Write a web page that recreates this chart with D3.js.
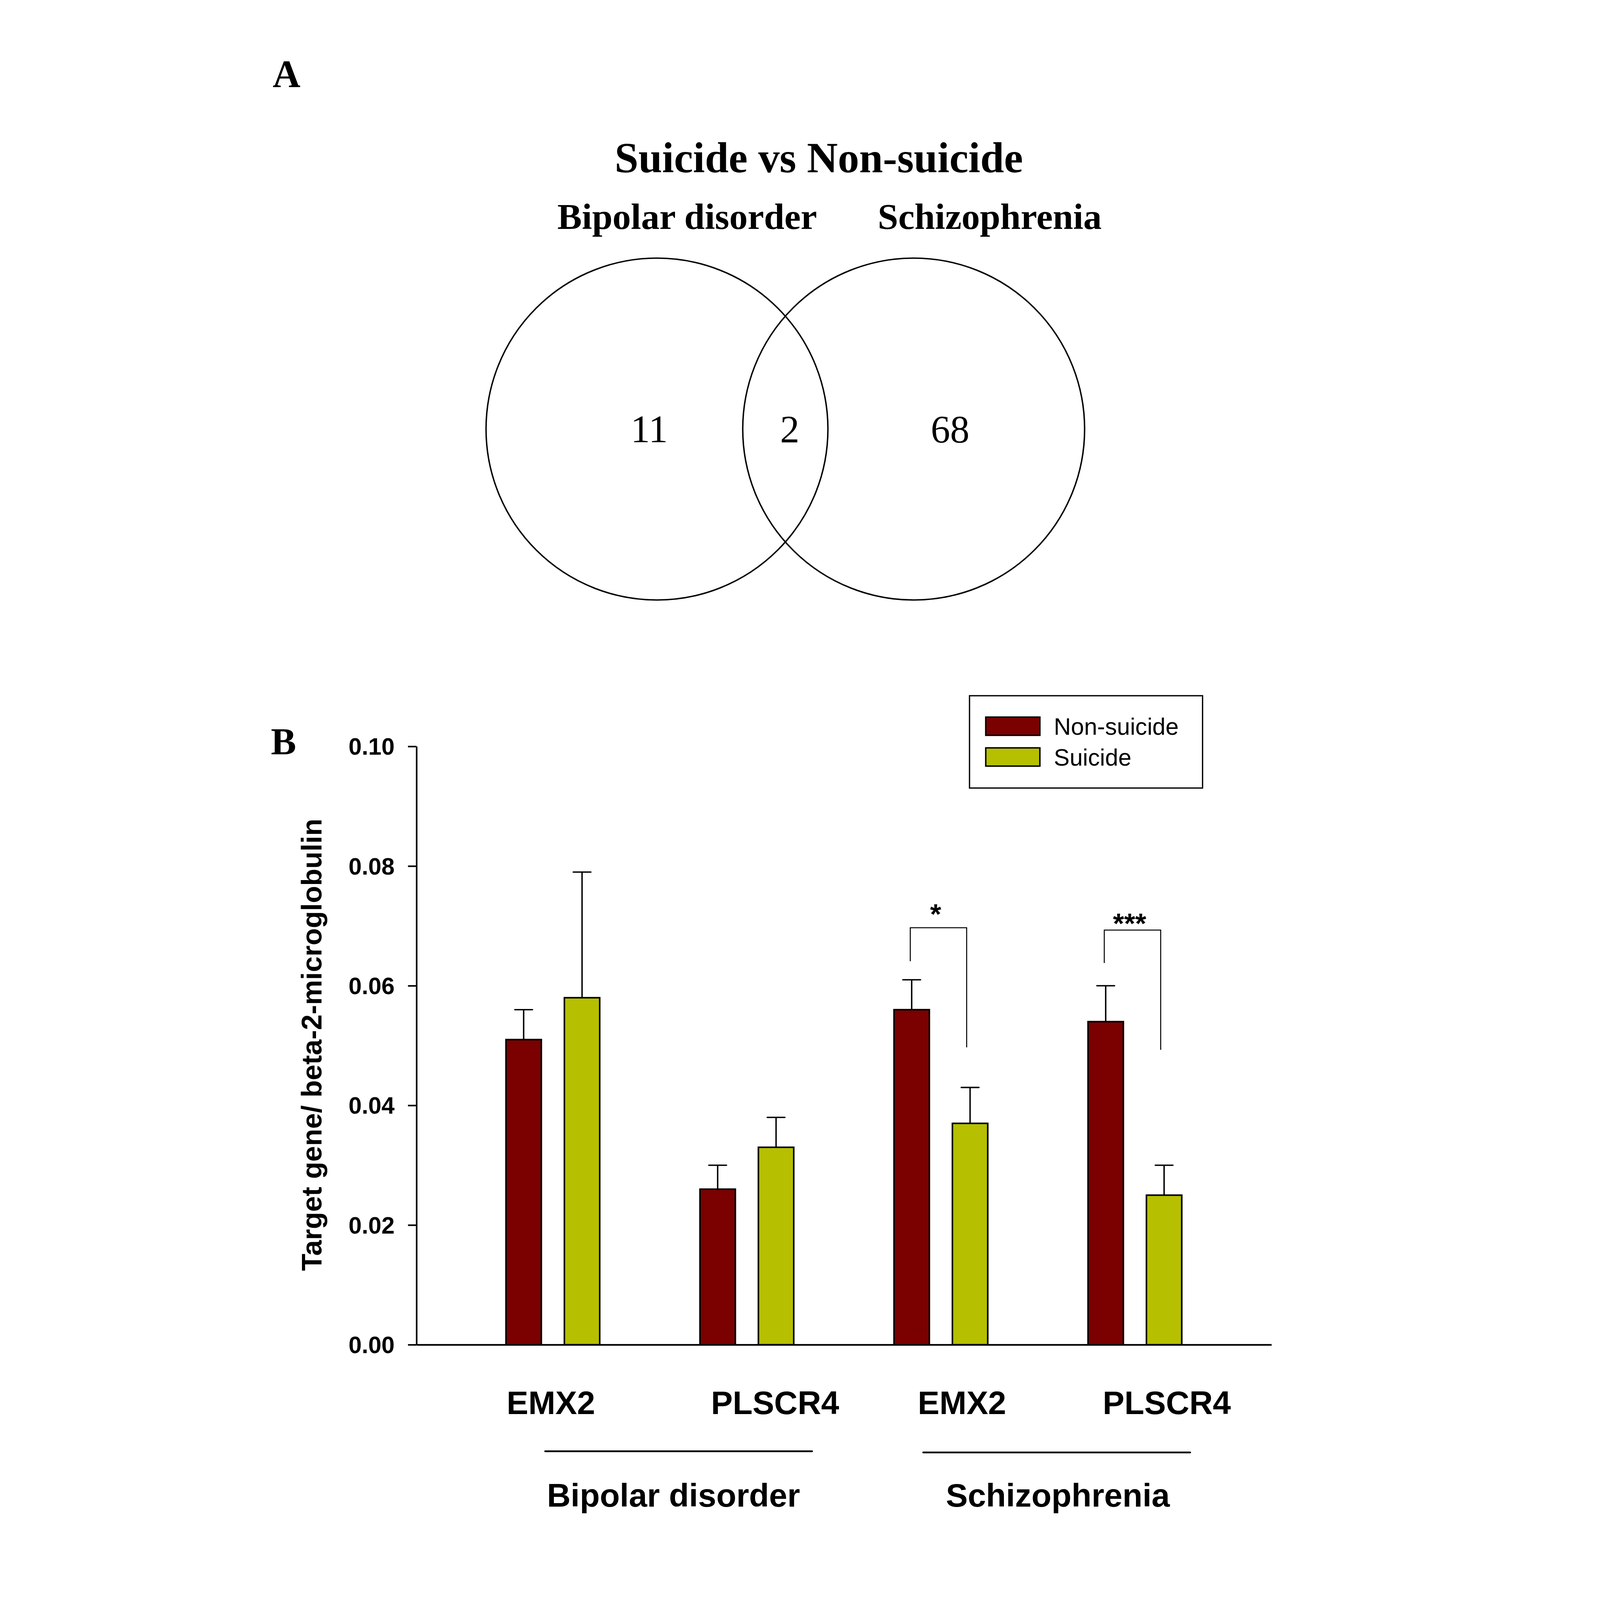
<!DOCTYPE html>
<html>
<head>
<meta charset="utf-8">
<script src="https://cdn.jsdelivr.net/npm/d3@7"></script>
<style>
  html, body { margin: 0; padding: 0; background: #fff; overflow: hidden; }
  svg { display: block; }
</style>
</head>
<body>
<div id="figure"></div>
<script>
// ---- data ----
const vennTitle = "Suicide vs Non-suicide";
const vennSets = ["Bipolar disorder", "Schizophrenia"];
const vennCounts = [11, 2, 68]; // BD only, shared, SZ only

const groups = ["BD-EMX2", "BD-PLSCR4", "SZ-EMX2", "SZ-PLSCR4"];
const genes = ["EMX2", "PLSCR4", "EMX2", "PLSCR4"];
const disorders = ["Bipolar disorder", "Schizophrenia"];
const series = ["Non-suicide", "Suicide"];
const nonSuicideMean = [0.051, 0.026, 0.056, 0.054];
const nonSuicideErr = [0.005, 0.004, 0.005, 0.006];
const suicideMean = [0.058, 0.033, 0.037, 0.025];
const suicideErr = [0.021, 0.005, 0.006, 0.005];
const yTicks = [0, 0.02, 0.04, 0.06, 0.08, 0.10];
const yLabel = "Target gene/ beta-2-microglobulin";

// significance brackets (Schizophrenia groups)
const sigGroups = ["SZ-EMX2", "SZ-PLSCR4"];
const sigMarks = ["*", "***"];
const sigTop = [0.0697, 0.0693];
const sigLeftEnd = [0.0641, 0.0638];
const sigRightEnd = [0.0497, 0.0493];

const colors = { "Non-suicide": "#7b0000", "Suicide": "#b6c000" };

// ---- drawing ----
// figure is laid out in a 4212x5616 box, then fitted into the window
const W = 4212, H = 5616;
const serif = "'Liberation Serif', 'Times New Roman', serif";
const sans = "'Liberation Sans', Arial, sans-serif";

const svg = d3.select("#figure").append("svg")
    .attr("width", window.innerWidth || W)
    .attr("height", window.innerHeight || H)
    .attr("viewBox", `0 0 ${W} ${H}`)
    .attr("preserveAspectRatio", "xMidYMid meet");

svg.append("rect").attr("width", W).attr("height", H).attr("fill", "#fff");

// panel letters
svg.append("text").attr("x", 255).attr("y", 306)
    .attr("font-family", serif).attr("font-weight", "bold").attr("font-size", 135)
    .text("A");
svg.append("text").attr("x", 249).attr("y", 2647)
    .attr("font-family", serif).attr("font-weight", "bold").attr("font-size", 133)
    .text("B");

// ---------- Panel A: Venn ----------
const venn = svg.append("g");
venn.append("text").attr("x", 2172).attr("y", 604)
    .attr("text-anchor", "middle")
    .attr("font-family", serif).attr("font-weight", "bold").attr("font-size", 150)
    .text(vennTitle);

const setX = d3.scalePoint().domain(vennSets).range([1604, 2505]);
const setLabelX = [1710, 2772];

venn.selectAll("text.set")
    .data(vennSets)
    .enter().append("text")
    .attr("class", "set")
    .attr("x", (d, i) => setLabelX[i])
    .attr("y", 804)
    .attr("text-anchor", "middle")
    .attr("font-family", serif).attr("font-weight", "bold").attr("font-size", 129)
    .text(d => d);

venn.selectAll("circle")
    .data(vennSets)
    .enter().append("circle")
    .attr("cx", d => setX(d))
    .attr("cy", 1506)
    .attr("r", 600)
    .attr("fill", "none")
    .attr("stroke", "#000")
    .attr("stroke-width", 5);

const countX = [1577, 2070, 2633];
venn.selectAll("text.count")
    .data(vennCounts)
    .enter().append("text")
    .attr("class", "count")
    .attr("x", (d, i) => countX[i])
    .attr("y", 1552)
    .attr("text-anchor", "middle")
    .attr("font-family", serif).attr("font-size", 136)
    .text(d => d);

// ---------- Panel B: bar chart ----------
const y = d3.scaleLinear().domain([0, 0.1]).range([4720, 2620]);
const x = d3.scaleBand().domain(groups).range([898, 3622]);
const xs = d3.scaleBand().domain(series).range([176, 505]).paddingInner(0.395);
const frame = d3.scaleLinear().domain([0, 1]).range([760, 3761]);

const chart = svg.append("g");

// y axis
const yAxis = chart.append("g")
    .attr("transform", `translate(${frame(0)},0)`)
    .call(d3.axisLeft(y).tickValues(yTicks).tickFormat(d3.format(".2f"))
        .tickSize(30).tickSizeOuter(0).tickPadding(47));
yAxis.select(".domain").attr("stroke-width", 5.5);
yAxis.selectAll(".tick line").attr("stroke-width", 5.5);
yAxis.selectAll(".tick text")
    .attr("font-family", sans).attr("font-weight", "bold").attr("font-size", 83)
    .attr("dy", "0.35em").attr("fill", "#000");

// x axis baseline
const xAxis = chart.append("g")
    .attr("transform", `translate(0,${y(0)})`)
    .call(d3.axisBottom(frame).tickValues([]).tickSizeOuter(0));
xAxis.select(".domain").attr("stroke-width", 5.5);

// y title
chart.append("text")
    .attr("transform", `translate(426,3667) rotate(-90)`)
    .attr("text-anchor", "middle")
    .attr("font-family", sans).attr("font-weight", "bold").attr("font-size", 99)
    .text(yLabel);

// bars
const barData = [];
groups.forEach((g, i) => {
    barData.push({ group: g, series: "Non-suicide", mean: nonSuicideMean[i], err: nonSuicideErr[i] });
    barData.push({ group: g, series: "Suicide", mean: suicideMean[i], err: suicideErr[i] });
});
const barX = d => x(d.group) + xs(d.series);
const barMid = d => barX(d) + xs.bandwidth() / 2;

// error bars first so bars cover their base
chart.selectAll(".err")
    .data(barData)
    .enter().append("line")
    .attr("class", "err")
    .attr("x1", barMid).attr("x2", barMid)
    .attr("y1", d => y(d.mean)).attr("y2", d => y(d.mean + d.err))
    .attr("stroke", "#000").attr("stroke-width", 5);

chart.selectAll(".cap")
    .data(barData)
    .enter().append("line")
    .attr("class", "cap")
    .attr("x1", d => barMid(d) - 31).attr("x2", d => barMid(d) + 31)
    .attr("y1", d => y(d.mean + d.err)).attr("y2", d => y(d.mean + d.err))
    .attr("stroke", "#000").attr("stroke-width", 5).attr("stroke-linecap", "round");

chart.selectAll(".bar")
    .data(barData)
    .enter().append("rect")
    .attr("class", "bar")
    .attr("x", barX)
    .attr("y", d => y(d.mean))
    .attr("width", xs.bandwidth())
    .attr("height", d => y(0) - y(d.mean))
    .attr("fill", d => colors[d.series])
    .attr("stroke", "#000")
    .attr("stroke-width", 5.5);

// significance brackets
sigGroups.forEach((g, i) => {
    const xl = x(g) + xs("Non-suicide") + xs.bandwidth() / 2 - 5;
    const xr = x(g) + xs("Suicide") + xs.bandwidth() / 2 - 12;
    chart.append("path")
        .attr("d", `M${xl},${y(sigLeftEnd[i])}V${y(sigTop[i])}H${xr}V${y(sigRightEnd[i])}`)
        .attr("fill", "none")
        .attr("stroke", "#000")
        .attr("stroke-width", 3.5);
    chart.append("text")
        .attr("x", (xl + xr) / 2 - 10)
        .attr("y", y(sigTop[i]) + (i === 0 ? -13 : 11))
        .attr("text-anchor", "middle")
        .attr("font-family", sans).attr("font-weight", "bold").attr("font-size", 100)
        .text(sigMarks[i]);
});

// gene labels under the axis
const geneNudge = [-7, 99, 74, 112];
chart.selectAll(".gene")
    .data(genes)
    .enter().append("text")
    .attr("class", "gene")
    .attr("x", (d, i) => x(groups[i]) + x.bandwidth() / 2 + geneNudge[i])
    .attr("y", 4963)
    .attr("text-anchor", "middle")
    .attr("font-family", sans).attr("font-weight", "bold").attr("font-size", 114)
    .text(d => d);

// disorder lines and labels
const lineStartNudge = [-27, -62];
const lineEndNudge = [229, 194];
const lineY = [5094, 5098];
const labelNudge = [-18, 4];
disorders.forEach((name, i) => {
    const g0 = groups[i * 2], g1 = groups[i * 2 + 1];
    const x1 = x(g0) + x.bandwidth() / 2 + lineStartNudge[i];
    const x2 = x(g1) + x.bandwidth() / 2 + lineEndNudge[i];
    chart.append("line")
        .attr("x1", x1).attr("x2", x2)
        .attr("y1", lineY[i]).attr("y2", lineY[i])
        .attr("stroke", "#000").attr("stroke-width", 6).attr("stroke-linecap", "round");
    chart.append("text")
        .attr("x", (x1 + x2) / 2 + labelNudge[i])
        .attr("y", 5288)
        .attr("text-anchor", "middle")
        .attr("font-family", sans).attr("font-weight", "bold").attr("font-size", 115)
        .text(name);
});

// legend
const legend = svg.append("g");
legend.append("rect")
    .attr("x", 2701).attr("y", 2442)
    .attr("width", 818).attr("height", 324)
    .attr("fill", "#fff").attr("stroke", "#000").attr("stroke-width", 4.5);

const legendY = d3.scalePoint().domain(series).range([2517, 2625]);
legend.selectAll(".swatch")
    .data(series)
    .enter().append("rect")
    .attr("class", "swatch")
    .attr("x", 2758).attr("y", d => legendY(d))
    .attr("width", 190).attr("height", 64)
    .attr("fill", d => colors[d])
    .attr("stroke", "#000").attr("stroke-width", 5);
legend.selectAll(".ltext")
    .data(series)
    .enter().append("text")
    .attr("class", "ltext")
    .attr("x", 2997).attr("y", d => legendY(d) + 62)
    .attr("font-family", sans).attr("font-size", 83)
    .text(d => d);
</script>
</body>
</html>
